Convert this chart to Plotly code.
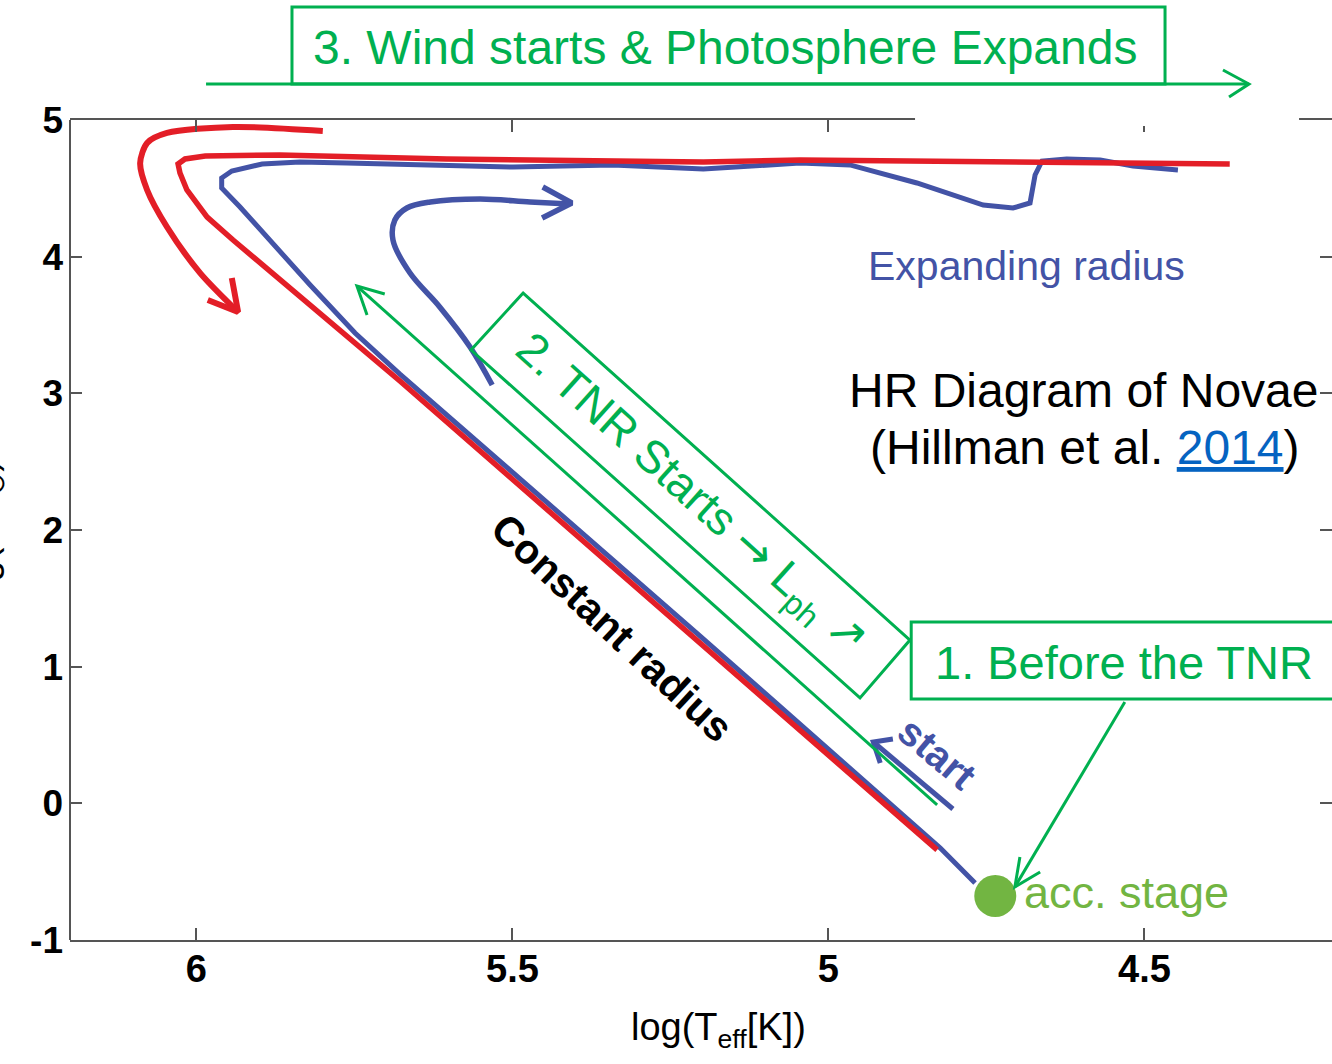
import plotly.graph_objects as go

# ---------------- data ----------------
# x = log(Teff [K]) (reversed axis), y = log(L)
blue_track_x = [4.768, 4.823, 5.203, 5.678, 5.749, 5.820, 5.931, 5.960, 5.960, 5.944,
                5.896, 5.836, 5.762, 5.499, 5.341, 5.198, 5.045, 4.966, 4.860, 4.755,
                4.708, 4.681, 4.673, 4.662, 4.623, 4.570, 4.518, 4.447]
blue_track_y = [-0.583, -0.327, 1.224, 3.141, 3.441, 3.793, 4.363, 4.502, 4.576, 4.627,
                4.678, 4.693, 4.685, 4.656, 4.671, 4.641, 4.685, 4.671, 4.539, 4.378,
                4.356, 4.393, 4.598, 4.700, 4.715, 4.707, 4.663, 4.634]

red_track_x = [4.828, 5.203, 5.678, 5.942, 5.983, 6.015, 6.026, 6.029,
               6.018, 5.986, 5.868, 5.604, 5.198, 5.045, 4.729, 4.365]
red_track_y = [-0.341, 1.173, 3.090, 4.122, 4.290, 4.488, 4.612, 4.678,
               4.715, 4.737, 4.744, 4.715, 4.693, 4.707, 4.693, 4.678]

red_arrow_x = [5.800, 5.942, 6.0465, 6.078, 6.089, 6.078, 6.0465, 5.994, 5.934]
red_arrow_y = [4.919, 4.949, 4.905, 4.832, 4.685, 4.488, 4.217, 3.880, 3.595]
red_head_x = [5.944, 5.934, 5.982]
red_head_y = [3.844, 3.595, 3.683]

blue_hook_x = [5.532, 5.567, 5.615, 5.662, 5.689, 5.686, 5.667, 5.630, 5.551, 5.472, 5.409]
blue_hook_y = [3.061, 3.339, 3.632, 3.880, 4.122, 4.268, 4.356, 4.400, 4.422, 4.400, 4.385]
blue_hook_head_x = [5.452, 5.406, 5.453]
blue_hook_head_y = [4.510, 4.393, 4.283]

start_arrow_x = [4.803, 4.929]
start_arrow_y = [-0.0415, 0.449]
start_head_x = [4.898, 4.929, 4.918]
start_head_y = [0.471, 0.449, 0.295]

acc_stage_x = [4.736]
acc_stage_y = [-0.678]

x_tick_vals = [6, 5.5, 5, 4.5]
x_tick_text = ["6", "5.5", "5", "4.5"]
y_tick_vals = [-1, 0, 1, 2, 3, 4, 5]
y_tick_text = ["-1", "0", "1", "2", "3", "4", "5"]

# overlay geometry (annotation boxes / arrows), in axis units
tnr_arrow = [(4.828, -0.012), (5.746, 3.785)]
tnr_head = [(5.702, 3.727), (5.746, 3.785), (5.730, 3.573)]
before_arrow = [(4.531, 0.741), (4.705, -0.612)]
before_head = [(4.665, -0.502), (4.705, -0.612), (4.697, -0.393)]
box1 = (4.869, 0.763, 4.15, 1.327)
box2 = [(5.483, 3.734), (5.5655, 3.317), (4.950, 0.771), (4.871, 1.195)]
# top overlay (outside the plot area), in paper units
box3 = (0.1759, 1.0439, 0.8677, 1.1378)
wind_arrow = [(0.1078, 1.0439), (0.9342, 1.0439)]
wind_head = [(0.9136, 1.061), (0.9342, 1.0439), (0.9184, 1.028)]
gap_box = (0.6696, 0.9927, 0.9739, 1.039)

RED = "#E31E27"
BLUE = "#4353A6"
GREEN = "#00B050"
DOT = "#72B542"
AXC = "#555555"
FONT = "Liberation Sans, Arial, sans-serif"
ARROWFONT = "DejaVu Sans"


def path(points, close=False):
    s = "M " + " L ".join(f"{a} {b}" for a, b in points)
    return s + (" Z" if close else "")


fig = go.Figure()

fig.add_trace(go.Scatter(x=blue_track_x, y=blue_track_y, mode="lines",
                         line=dict(color=BLUE, width=5),
                         showlegend=False, hoverinfo="skip"))
fig.add_trace(go.Scatter(x=red_track_x, y=red_track_y, mode="lines",
                         line=dict(color=RED, width=5.5),
                         showlegend=False, hoverinfo="skip"))
fig.add_trace(go.Scatter(x=red_arrow_x, y=red_arrow_y, mode="lines",
                         line=dict(color=RED, width=6, shape="spline", smoothing=0.8),
                         showlegend=False, hoverinfo="skip"))
fig.add_trace(go.Scatter(x=red_head_x, y=red_head_y, mode="lines",
                         line=dict(color=RED, width=6),
                         showlegend=False, hoverinfo="skip"))
fig.add_trace(go.Scatter(x=blue_hook_x, y=blue_hook_y, mode="lines",
                         line=dict(color=BLUE, width=5.5, shape="spline", smoothing=1.0),
                         showlegend=False, hoverinfo="skip"))
fig.add_trace(go.Scatter(x=blue_hook_head_x, y=blue_hook_head_y, mode="lines",
                         line=dict(color=BLUE, width=5.5),
                         showlegend=False, hoverinfo="skip"))
fig.add_trace(go.Scatter(x=start_arrow_x, y=start_arrow_y, mode="lines",
                         line=dict(color=BLUE, width=5),
                         showlegend=False, hoverinfo="skip"))
fig.add_trace(go.Scatter(x=start_head_x, y=start_head_y, mode="lines",
                         line=dict(color=BLUE, width=5),
                         showlegend=False, hoverinfo="skip"))
fig.add_trace(go.Scatter(x=acc_stage_x, y=acc_stage_y, mode="markers",
                         marker=dict(color=DOT, size=42, line=dict(width=0)),
                         cliponaxis=False, showlegend=False, hoverinfo="skip"))

gline = dict(color=GREEN, width=3)
shapes = [
    # left spine
    dict(type="line", xref="paper", yref="paper", x0=0, x1=0, y0=0, y1=1,
         line=dict(color=AXC, width=2), layer="above"),
    dict(type="path", xref="x", yref="y", path=path(tnr_arrow), line=gline, layer="above"),
    dict(type="path", xref="x", yref="y", path=path(tnr_head), line=gline, layer="above"),
    dict(type="rect", xref="x", yref="y", x0=box1[0], y0=box1[1], x1=box1[2], y1=box1[3],
         line=gline, fillcolor="white", layer="above"),
    dict(type="path", xref="x", yref="y", path=path(before_arrow), line=gline, layer="above"),
    dict(type="path", xref="x", yref="y", path=path(before_head), line=gline, layer="above"),
    dict(type="path", xref="x", yref="y", path=path(box2, close=True), line=gline, layer="above"),
    # white gap in the top frame behind "Contracting radius"
    dict(type="rect", xref="paper", yref="paper", x0=gap_box[0], y0=gap_box[1],
         x1=gap_box[2], y1=gap_box[3], line=dict(width=0), fillcolor="white", layer="above"),
    dict(type="rect", xref="paper", yref="paper", x0=box3[0], y0=box3[1], x1=box3[2], y1=box3[3],
         line=gline, fillcolor="white", layer="above"),
    dict(type="path", xref="paper", yref="paper", path=path(wind_arrow), line=gline, layer="above"),
    dict(type="path", xref="paper", yref="paper", path=path(wind_head), line=gline, layer="above"),
]


def ann(text, x, y, size, color, angle=0, bold=False, xanchor="center", xref="x", yref="y"):
    return dict(text=text, x=x, y=y, xref=xref, yref=yref, showarrow=False,
                textangle=angle, xanchor=xanchor, yanchor="middle",
                font=dict(family=FONT, size=size, color=color,
                          weight="bold" if bold else "normal"))


annotations = [
    ann("Contracting radius", 4.553, 5.124, 41, RED),
    ann("Expanding radius", 4.686, 3.932, 41, BLUE),
    ann("HR Diagram of Novae", 4.5956, 3.024, 48, "black"),
    ann("(Hillman et al. <span style='color:#0563C1'><u>2014</u></span>)", 4.594, 2.607, 48, "black"),
    ann("Constant radius", 5.342, 1.283, 41, "black", angle=43, bold=True),
    ann("start", 4.828, 0.368, 40, BLUE, angle=40, bold=True),
    ann("acc. stage", 4.694, -0.656, 45, DOT, xanchor="left"),
    ann("1. Before the TNR", 4.8345, 1.034, 47, GREEN, xanchor="left"),
    ann(f"2. TNR Starts <span style='font-family:{ARROWFONT}'>→</span> L<sub>ph</sub> "
        f"<span style='font-family:{ARROWFONT}'>↗</span>", 5.2174, 2.256, 46, GREEN, angle=41.9),
    ann("3. Wind starts & Photosphere Expands", 0.519, 1.089, 48, GREEN, xref="paper", yref="paper"),
    ann("log(T<sub>eff</sub>[K])", 0.514, -0.11, 38, "black", xref="paper", yref="paper"),
    ann("log(L/L<sub>⊙</sub>)", -0.0665, 0.494, 38, "black", angle=-90, xref="paper", yref="paper"),
]

fig.update_layout(
    width=1332, height=1064, autosize=False,
    margin=dict(l=70, r=0, t=120, b=124, pad=0),
    paper_bgcolor="white", plot_bgcolor="white",
    showlegend=False,
    shapes=shapes, annotations=annotations,
    xaxis=dict(range=[6.2, 4.2032], tickvals=x_tick_vals, ticktext=x_tick_text,
               ticks="inside", ticklen=12, tickwidth=1.5, tickcolor=AXC,
               showline=True, linecolor=AXC, linewidth=2, mirror="ticks",
               showgrid=False, zeroline=False, ticklabelstandoff=-6,
               tickfont=dict(family=FONT, size=38, color="black", weight="bold")),
    yaxis=dict(range=[-1, 5], tickvals=y_tick_vals, ticktext=y_tick_text,
               ticks="inside", ticklen=12, tickwidth=1.5, tickcolor=AXC,
               showline=False, mirror="ticks",
               showgrid=False, zeroline=False, ticklabelstandoff=6,
               tickfont=dict(family=FONT, size=37, color="black", weight="bold")),
)

fig.write_html("out.html")
